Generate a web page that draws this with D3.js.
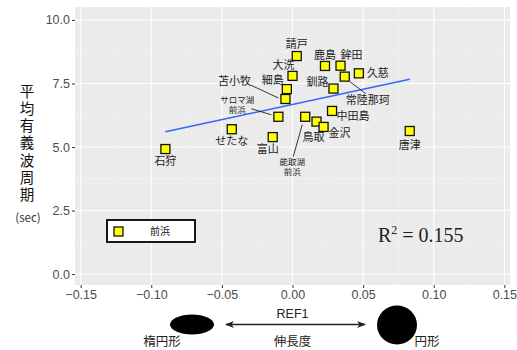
<!DOCTYPE html>
<html>
<head>
<meta charset="utf-8">
<script src="https://cdn.jsdelivr.net/npm/d3@7"></script>
<style>
  body { margin: 0; background: #fff; }
  text { font-family: "Liberation Sans", Arial, sans-serif; }
  .jp { font-family: "Noto Sans CJK JP", sans-serif; }
</style>
</head>
<body>
<script>
// point data (REF1 vs mean significant wave period)
const names = ["請戸","鹿島","鉾田","久慈","常陸那珂","大洗","釧路","細島","苫小牧","サロマ湖前浜","能取湖前浜","中田島","鳥取","金沢","富山","せたな","石狩","唐津"];
const ref1 = [0.003, 0.023, 0.034, 0.047, 0.037, 0.000, 0.029, -0.004, -0.005, -0.010, 0.009, 0.028, 0.017, 0.022, -0.014, -0.043, -0.090, 0.083];
const period = [8.58, 8.19, 8.20, 7.90, 7.77, 7.80, 7.30, 7.28, 6.89, 6.19, 6.19, 6.42, 6.00, 5.79, 5.39, 5.70, 4.92, 5.63];
// fitted line end points
const fitX = [-0.090, 0.083];
const fitY = [5.60, 7.67];
const xTicks = [-0.15, -0.10, -0.05, 0.00, 0.05, 0.10, 0.15];
const yTicks = [0.0, 2.5, 5.0, 7.5, 10.0];
const r2Label = "0.155";

// label layout: [dx, dy, lines, fontsize, leader]
const labelPos = {
  "請戸": [0, -12],
  "鹿島": [0, -11],
  "鉾田": [11, -11],
  "久慈": [19, 0],
  "常陸那珂": [23, 24, null, 11, [[5, 5], [21, 17]]],
  "大洗": [-9, -11],
  "釧路": [-16, -6],
  "細島": [-14, -9],
  "苫小牧": [-51, -18, null, 11, [[-35, -14], [-7, -1]]],
  "サロマ湖前浜": [-41, -12, ["サロマ湖", "前浜"], 8.5, [[-27, -8], [-7, -2]]],
  "能取湖前浜": [-13, 50, ["能取湖", "前浜"], 8.5, [[-3, 8], [-12, 40]]],
  "中田島": [21, 5],
  "鳥取": [-3, 16],
  "金沢": [16, 6],
  "富山": [-5, 12],
  "せたな": [0, 12],
  "石狩": [0, 12],
  "唐津": [0, 14]
};

const width = 517, height = 350;
const panel = {left: 75, right: 510, top: 7, bottom: 285};

const x = d3.scaleLinear().domain([-0.154, 0.154]).range([panel.left, panel.right]);
const y = d3.scaleLinear().domain([-0.43, 10.51]).range([panel.bottom, panel.top]);

const svg = d3.select("body").append("svg")
  .attr("width", width)
  .attr("height", height);

// panel background
svg.append("rect")
  .attr("x", panel.left).attr("y", panel.top)
  .attr("width", panel.right - panel.left)
  .attr("height", panel.bottom - panel.top)
  .attr("fill", "#ebebeb");

// minor grid
const xMinor = xTicks.slice(0, -1).map((d, i) => (d + xTicks[i + 1]) / 2);
const yMinor = yTicks.slice(0, -1).map((d, i) => (d + yTicks[i + 1]) / 2);
const grid = svg.append("g");
grid.selectAll(".vmin").data(xMinor).join("line")
  .attr("x1", d => x(d)).attr("x2", d => x(d))
  .attr("y1", panel.top).attr("y2", panel.bottom)
  .attr("stroke", "#f5f5f5").attr("stroke-width", 0.6);
grid.selectAll(".hmin").data(yMinor).join("line")
  .attr("y1", d => y(d)).attr("y2", d => y(d))
  .attr("x1", panel.left).attr("x2", panel.right)
  .attr("stroke", "#f5f5f5").attr("stroke-width", 0.6);
grid.selectAll(".vmaj").data(xTicks).join("line")
  .attr("x1", d => x(d)).attr("x2", d => x(d))
  .attr("y1", panel.top).attr("y2", panel.bottom)
  .attr("stroke", "#fff").attr("stroke-width", 1.1);
grid.selectAll(".hmaj").data(yTicks).join("line")
  .attr("y1", d => y(d)).attr("y2", d => y(d))
  .attr("x1", panel.left).attr("x2", panel.right)
  .attr("stroke", "#fff").attr("stroke-width", 1.1);

// axes
const xAxis = svg.append("g")
  .attr("transform", `translate(0,${panel.bottom})`)
  .call(d3.axisBottom(x).tickValues(xTicks).tickFormat(d3.format(".2f")).tickSizeOuter(0).tickSize(3).tickPadding(2));
const yAxis = svg.append("g")
  .attr("transform", `translate(${panel.left},0)`)
  .call(d3.axisLeft(y).tickValues(yTicks).tickFormat(d3.format(".1f")).tickSizeOuter(0).tickSize(3).tickPadding(2));
[xAxis, yAxis].forEach(a => {
  a.select(".domain").remove();
  a.selectAll(".tick line").attr("stroke", "#333");
  a.selectAll(".tick text").attr("fill", "#4d4d4d").attr("font-size", 12.5)
    .attr("font-family", "Liberation Sans, Arial, sans-serif");
});

// fit line
svg.append("path")
  .datum(fitX.map((d, i) => [d, fitY[i]]))
  .attr("d", d3.line().x(d => x(d[0])).y(d => y(d[1])))
  .attr("fill", "none").attr("stroke", "#3366ff").attr("stroke-width", 1.6);

const pts = names.map((n, i) => ({name: n, x: ref1[i], y: period[i]}));

// leader lines
svg.append("g").selectAll("line")
  .data(pts.filter(d => labelPos[d.name][4]))
  .join("line")
  .attr("x1", d => x(d.x) + labelPos[d.name][4][0][0])
  .attr("y1", d => y(d.y) + labelPos[d.name][4][0][1])
  .attr("x2", d => x(d.x) + labelPos[d.name][4][1][0])
  .attr("y2", d => y(d.y) + labelPos[d.name][4][1][1])
  .attr("stroke", "#222").attr("stroke-width", 0.9);

// points
svg.append("g").selectAll("rect")
  .data(pts)
  .join("rect")
  .attr("x", d => x(d.x) - 4.5)
  .attr("y", d => y(d.y) - 4.5)
  .attr("width", 9).attr("height", 9)
  .attr("fill", "#ffff00")
  .attr("stroke", "#111").attr("stroke-width", 1.3);

// labels
const lab = svg.append("g").selectAll("text")
  .data(pts)
  .join("text")
  .attr("class", "jp")
  .attr("text-anchor", "middle")
  .attr("fill", "#222")
  .attr("font-size", d => labelPos[d.name][3] || 11)
  .attr("x", d => x(d.x) + labelPos[d.name][0])
  .attr("y", d => y(d.y) + labelPos[d.name][1]);
lab.each(function(d) {
  const lines = labelPos[d.name][2] || [d.name];
  const fs = labelPos[d.name][3] || 11;
  const lh = fs * 1.15;
  const t = d3.select(this);
  lines.forEach((s, i) => {
    t.append("tspan")
      .attr("x", x(d.x) + labelPos[d.name][0])
      .attr("dy", i === 0 ? (-(lines.length - 1) * lh * 0.5 + fs * 0.35) : lh)
      .text(s);
  });
});

// legend
svg.append("rect")
  .attr("x", 107).attr("y", 220).attr("width", 88).attr("height", 22)
  .attr("fill", "#fff").attr("stroke", "#000").attr("stroke-width", 1.8);
svg.append("rect")
  .attr("x", 114).attr("y", 227).attr("width", 9).attr("height", 9)
  .attr("fill", "#ffff00").attr("stroke", "#111").attr("stroke-width", 1.3);
svg.append("text").attr("class", "jp")
  .attr("x", 160).attr("y", 235).attr("text-anchor", "middle")
  .attr("font-size", 10).attr("fill", "#222").text("前浜");

// R squared
const r2 = svg.append("text")
  .attr("x", 378).attr("y", 242)
  .attr("font-size", 20).attr("fill", "#222")
  .style("font-family", "Liberation Serif, Times New Roman, serif");
r2.append("tspan").text("R");
r2.append("tspan").attr("font-size", 12).attr("dy", -8).text("2");
r2.append("tspan").attr("dy", 8).text(" = " + r2Label);

// y title (vertical writing)
svg.append("text")
  .attr("class", "jp")
  .attr("x", 27).attr("y", 84)
  .style("writing-mode", "vertical-rl")
  .style("letter-spacing", "2.7px")
  .attr("font-size", 14.5).attr("fill", "#111")
  .text("平均有義波周期");
svg.append("text").attr("class", "jp")
  .attr("x", 28).attr("y", 222).attr("text-anchor", "middle")
  .attr("font-size", 11.5).attr("fill", "#333").text("(sec)");

// bottom annotation
const xMid = x(0);
svg.append("text").attr("x", xMid).attr("y", 318).attr("text-anchor", "middle")
  .attr("font-size", 12.5).attr("fill", "#222").text("REF1");
svg.append("text").attr("class", "jp").attr("x", xMid).attr("y", 346).attr("text-anchor", "middle")
  .attr("font-size", 12.5).attr("fill", "#222").text("伸長度");
svg.append("text").attr("class", "jp").attr("x", 162).attr("y", 346).attr("text-anchor", "middle")
  .attr("font-size", 12.5).attr("fill", "#222").text("楕円形");
svg.append("text").attr("class", "jp").attr("x", 427).attr("y", 346).attr("text-anchor", "middle")
  .attr("font-size", 12.5).attr("fill", "#222").text("円形");
svg.append("ellipse").attr("cx", 192).attr("cy", 324.5).attr("rx", 22).attr("ry", 10).attr("fill", "#000");
svg.append("ellipse").attr("cx", 397).attr("cy", 325).attr("rx", 20).attr("ry", 19.5).attr("fill", "#000");

const defs = svg.append("defs");
defs.append("marker").attr("id", "ah").attr("viewBox", "0 0 10 10")
  .attr("refX", 9).attr("refY", 5).attr("markerWidth", 7).attr("markerHeight", 7)
  .attr("orient", "auto-start-reverse")
  .append("path").attr("d", "M0,1 L10,5 L0,9 L3,5 Z").attr("fill", "#222");
svg.append("line")
  .attr("x1", 226).attr("x2", 365).attr("y1", 324.5).attr("y2", 324.5)
  .attr("stroke", "#222").attr("stroke-width", 1.3)
  .attr("marker-start", "url(#ah)").attr("marker-end", "url(#ah)");
</script>
</body>
</html>
